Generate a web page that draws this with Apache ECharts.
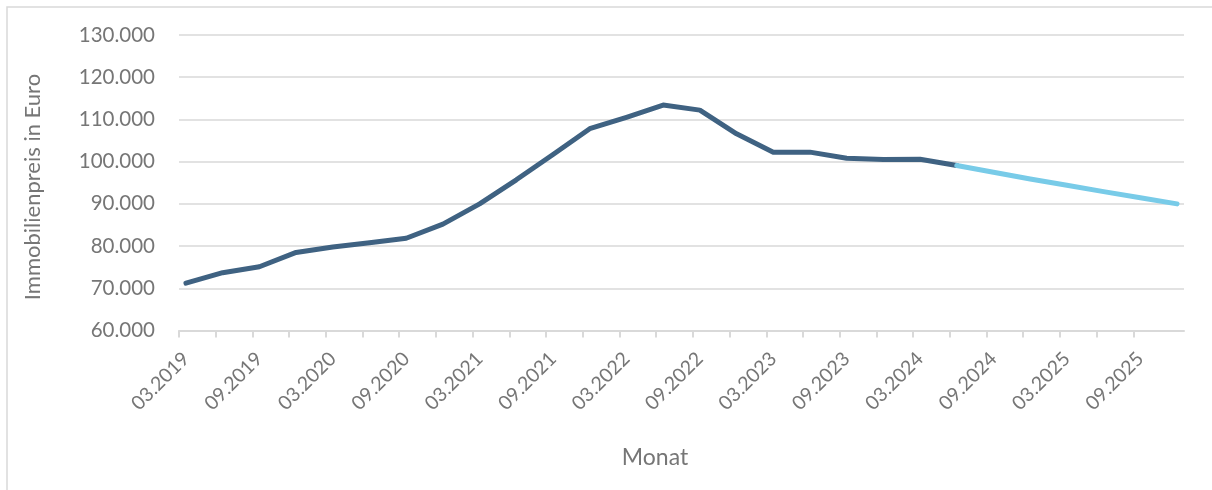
<!DOCTYPE html>
<html>
<head>
<meta charset="utf-8">
<script src="https://cdn.jsdelivr.net/npm/echarts@6/dist/echarts.min.js"></script>
<style>
  html, body { margin: 0; padding: 0; background: #ffffff; }
  #chart { width: 1212px; height: 490px; }
</style>
</head>
<body>
<div id="chart"></div>
<script>
// Quarterly categories (month.year)
const categories = [
  '03.2019','06.2019','09.2019','12.2019',
  '03.2020','06.2020','09.2020','12.2020',
  '03.2021','06.2021','09.2021','12.2021',
  '03.2022','06.2022','09.2022','12.2022',
  '03.2023','06.2023','09.2023','12.2023',
  '03.2024','06.2024','09.2024','12.2024',
  '03.2025','06.2025','09.2025','12.2025'
];
// Observed prices (index 0..21)
const actualValues = [
  71200, 73700, 75100, 78500,
  79800, 80800, 81850, 85200,
  90000, 95700, 101700, 107800,
  110500, 113400, 112200, 106600,
  102250, 102250, 100800, 100500,
  100550, 99100
];
// Forecast prices (index 21..27)
const forecastValues = [99100, 97500, 95900, 94400, 92900, 91450, 90000];
const forecastStart = 21;
const yTicks = [60000, 70000, 80000, 90000, 100000, 110000, 120000, 130000];

const OFF = 0.19; // points sit slightly right of the tick marks
const fmt = v => {
  const s = String(Math.round(v));
  return s.replace(/\B(?=(\d{3})+(?!\d))/g, '.');
};

const actualData = actualValues.map((v, i) => [i + OFF, v]);
const forecastData = forecastValues.map((v, i) => [forecastStart + i + OFF, v]);
const tickVals = categories.slice(0, categories.length - 1).map((c, i) => i);
const labelVals = categories.map((c, i) => i).filter(i => i % 2 === 0).map(i => i + OFF);

const chart = echarts.init(document.getElementById('chart'));
chart.setOption({
  animation: false,
  backgroundColor: '#ffffff',
  textStyle: { fontFamily: 'Lato' },
  grid: { left: 179, right: 28, top: 35, bottom: 159.5, containLabel: false },
  xAxis: {
    type: 'value',
    min: 0,
    max: categories.length - 1 + 2 * OFF,
    splitLine: { show: false },
    axisLine: { show: true, lineStyle: { color: '#d9d9d9', width: 2 } },
    axisTick: { show: true, length: 7, customValues: tickVals, lineStyle: { color: '#d9d9d9', width: 2 } },
    axisLabel: {
      customValues: labelVals,
      rotate: 45,
      margin: 25,
      color: '#767676',
      fontSize: 19.5,
      fontFamily: 'Lato',
      formatter: v => categories[Math.round(v - OFF)] || ''
    }
  },
  yAxis: {
    type: 'value',
    min: yTicks[0],
    max: yTicks[yTicks.length - 1],
    interval: 10000,
    axisLine: { show: false },
    axisTick: { show: false },
    splitLine: { lineStyle: { color: '#d9d9d9', width: 1.5 } },
    axisLabel: { color: '#767676', fontSize: 20.5, fontFamily: 'Lato', margin: 24, formatter: fmt }
  },
  graphic: [
    { type: 'rect', shape: { x: 7, y: 7, width: 1400, height: 700 },
      style: { fill: 'none', stroke: '#d9d9d9', lineWidth: 1.5 }, silent: true },
    { type: 'text', x: 33, y: 187, rotation: Math.PI / 2,
      style: { text: 'Immobilienpreis in Euro', fill: '#767676', fontSize: 22, fontFamily: 'Lato',
               align: 'center', verticalAlign: 'middle' } },
    { type: 'text', x: 655, y: 458,
      style: { text: 'Monat', fill: '#767676', fontSize: 23, fontFamily: 'Lato',
               align: 'center', verticalAlign: 'middle' } }
  ],
  series: [
    { name: 'Immobilienpreis', type: 'line', data: actualData, showSymbol: false, symbol: 'none',
      lineStyle: { color: '#3f6282', width: 5, cap: 'round', join: 'round' }, z: 2 },
    { name: 'Prognose', type: 'line', data: forecastData, showSymbol: false, symbol: 'none',
      lineStyle: { color: '#78cbe8', width: 5, cap: 'round', join: 'round' }, z: 3 }
  ]
});
</script>
</body>
</html>
